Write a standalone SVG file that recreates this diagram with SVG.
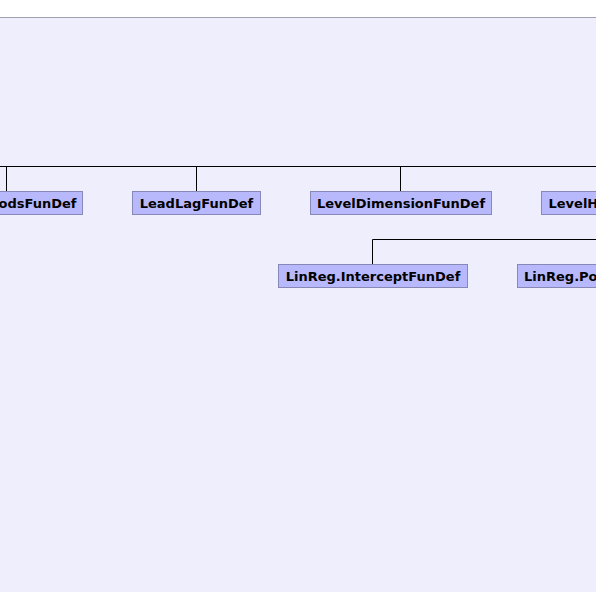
<svg xmlns="http://www.w3.org/2000/svg" width="596" height="592" viewBox="0 0 596 592">
<style>
.node rect{fill:#b8b8fc;stroke:#8888b8;stroke-width:1}
.node text{font-family:"DejaVu Sans",sans-serif;font-weight:bold;font-size:13px;fill:#000}
.edges path{fill:none;stroke:#000;stroke-width:1}
</style>
<rect x="0" y="0" width="596" height="592" fill="#ffffff"/>
<rect x="0" y="17.5" width="596" height="574.5" fill="#eeeefc"/>
<line x1="0" y1="17.5" x2="596" y2="17.5" stroke="#a0a0b0" stroke-width="1.2"/>
<g class="edges">
<path d="M0 166.5H596"/>
<path d="M6.5 166.5V191.5"/>
<path d="M196.5 166.5V191.5"/>
<path d="M400.5 166.5V191.5"/>
<path d="M372.5 239.5H596"/>
<path d="M372.5 239.5V264.5"/>
</g>
<g id="n-periods" class="node"><rect x="-60.5" y="191.5" width="143" height="23"/><text x="76.5" y="207.5" text-anchor="end">odsFunDef</text></g>
<g id="n-leadlag" class="node"><rect x="132.5" y="191.5" width="128" height="23"/><text x="196.5" y="207.5" text-anchor="middle">LeadLagFunDef</text></g>
<g id="n-leveldim" class="node"><rect x="310.5" y="191.5" width="181" height="23"/><text x="401" y="207.5" text-anchor="middle">LevelDimensionFunDef</text></g>
<g id="n-levelh" class="node"><rect x="541.5" y="191.5" width="80" height="23"/><text x="548.5" y="207.5">LevelH</text></g>
<g id="n-intercept" class="node"><rect x="278.5" y="264.5" width="189" height="23"/><text x="373" y="280.5" text-anchor="middle">LinReg.InterceptFunDef</text></g>
<g id="n-po" class="node"><rect x="517.5" y="264.5" width="100" height="23"/><text x="524" y="280.5">LinReg.Po</text></g>
</svg>
